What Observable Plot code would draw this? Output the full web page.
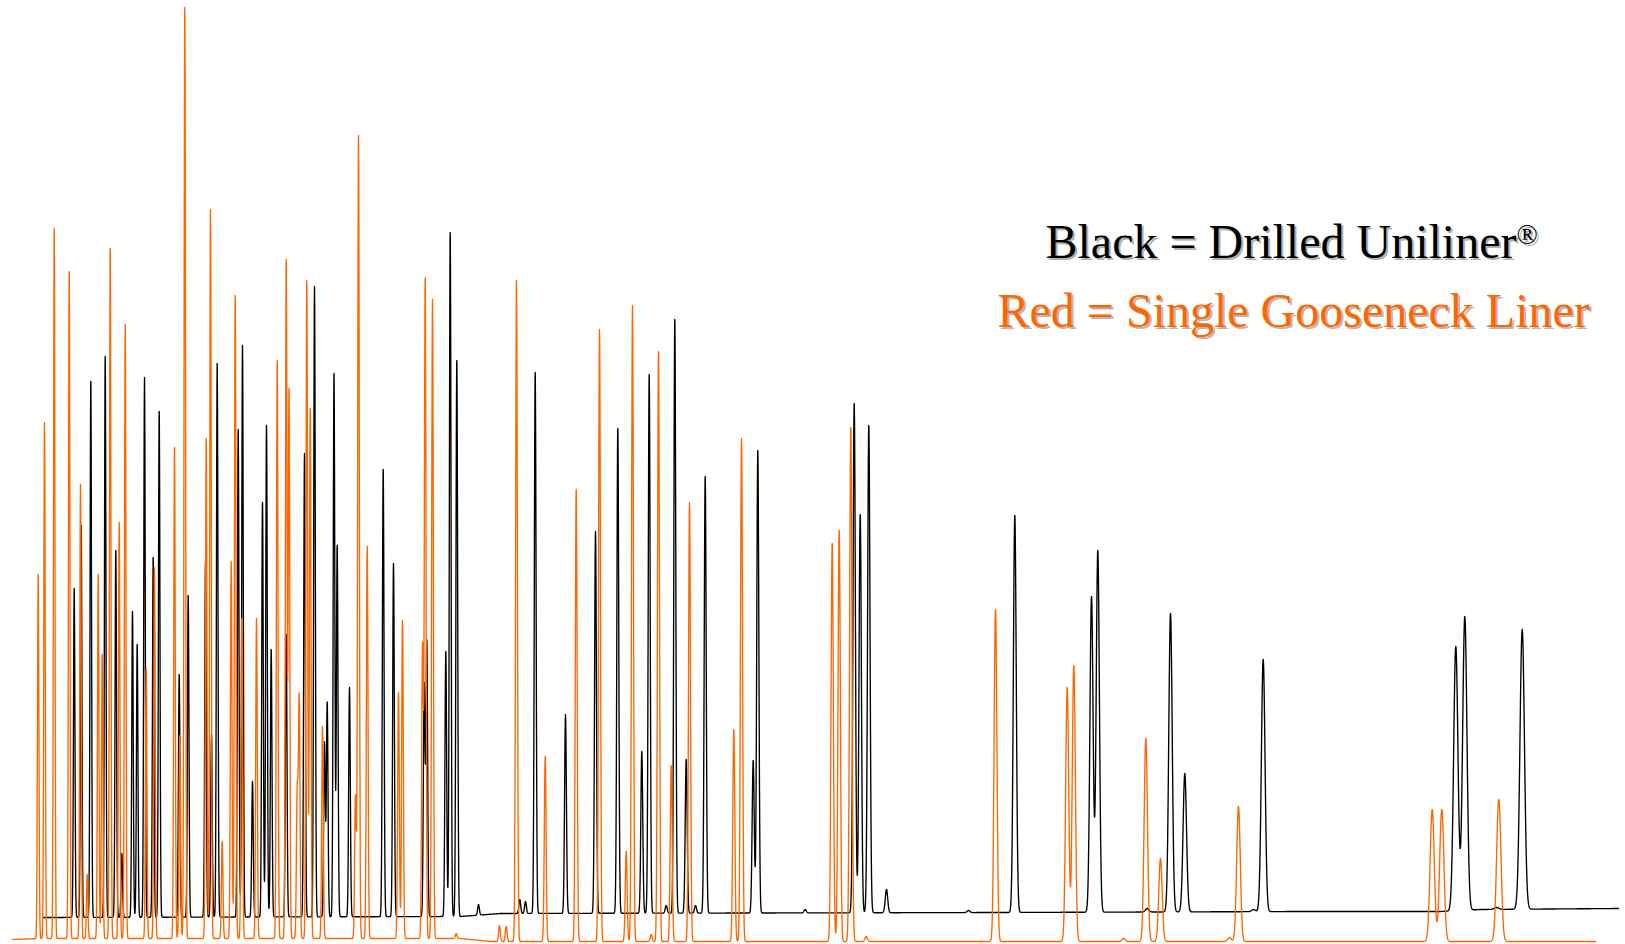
<!DOCTYPE html>
<html><head><meta charset="utf-8">
<script src="https://cdn.jsdelivr.net/npm/d3@7"></script>
<script src="https://cdn.jsdelivr.net/npm/@observablehq/plot@0.6"></script>
<style>html,body{margin:0;padding:0;background:#fff;overflow:hidden} #chart svg{display:block}</style>
</head><body><div id="chart"></div>
<script>
// Retention time (arbitrary units) and apex response of each peak
const blackTimes = [73.7,80.7,90.3,104.7,115.3,121.3,132,136.7,144,152.7,158.7,178.7,187.7,205,211,216.7,237.7,242,252,262,266,270.7,285.7,304,314,324,326.7,333.5,336.7,349,382.7,393,423.7,426.3,445.3,449.7,456.3,478,519.3,525,534.7,565,595,617.3,641.3,648.7,665.7,674.3,685.7,695,704.7,752.7,757.3,804.7,853.7,859.7,868.3,886,968,1014.3,1091,1097.3,1146.7,1170,1184.3,1253,1262.7,1455.3,1464.3,1496,1521.7];
const blackHeights = [356,419,563,588,394,91,333,300,567,387,533,270,349,383,210,581,515,599,163,442,519,295,310,491,658,202,242,571,399,257,475,381,260,303,293,712,584,40,45,43,572,230,413,516,193,570,39,625,185,39,468,184,494,35,541,430,519,55,34,429,348,394,36,331,171,35,285,298,328,37,315];
const orangeTimes = [37.7,44,53.7,68.7,80,86.7,97.7,101.7,109.7,118.7,124.7,145.7,154,174,179.3,184.3,205.7,210,221.7,230.7,234.7,241.3,256,276.7,285.7,288.5,296.7,298.7,306.3,309.7,322,355,358,366.7,398,402,422,424.7,432,455.7,499,505.7,516,544.7,575.7,599,625.7,632,650.7,658,670.7,689,733.3,741,831.7,838.7,850.3,865.7,995,1066.7,1073.3,1123,1145.3,1160,1229,1238,1431.7,1441.3,1498.3];
const orangeHeights = [370,522,716,673,460,70,370,290,696,422,620,275,377,497,209,937,506,735,103,383,649,326,326,584,684,555,150,245,664,536,218,149,809,398,252,324,299,665,645,11,19,18,664,188,455,615,93,639,10,593,179,442,215,506,401,414,517,8,335,257,279,6,206,86,7,138,135,135,145];

// Baseline drift of each trace
const blackBaseTimes = [43,460,500,1000,1300,1440,1480,1618];
const blackBaseValues = [27,28,31,32,33,33,35,36];
const orangeBaseTimes = [12,40,460,490,1595];
const orangeBaseValues = [5,6,6,3,3];

// Peak width (sigma) growing with retention time
const widthTimes = [0,460,720,900,1100,1300,1625];
const widthSigmas = [0.7,0.85,1.0,1.25,1.6,1.9,2.4];

const legendLines = ["Black = Drilled Uniliner", "Red = Single Gooseneck Liner"];
const legendMark = ["®"];

const sigmaAt = d3.scaleLinear().domain(widthTimes).range(widthSigmas).clamp(true);

function trace(times, heights, baseT, baseV) {
  const base = d3.scaleLinear().domain(baseT).range(baseV).clamp(true);
  const peaks = times.map((t, i) => ({t, a: heights[i] - base(t), s: sigmaAt(t)}));
  const t0 = baseT[0], t1 = baseT[baseT.length - 1];
  const n = Math.round((t1 - t0) / 0.2);
  const ts = d3.range(n + 1).map(i => t0 + i * 0.2).concat(times);
  ts.sort((a, b) => a - b);
  return ts.map(t => {
    let v = base(t);
    for (const p of peaks) {
      const d = t - p.t;
      if (Math.abs(d) < 8 * p.s) v += p.a * Math.exp(-d * d / (2 * p.s * p.s));
    }
    return {t, v};
  });
}

const blackTrace = trace(blackTimes, blackHeights, blackBaseTimes, blackBaseValues);
const orangeTrace = trace(orangeTimes, orangeHeights, orangeBaseTimes, orangeBaseValues);

const ORANGE = "#ff6600";
const font = "'Liberation Serif', 'Times New Roman', serif";
const txt = (data, x, y, fill, size) => Plot.text(data, {frameAnchor: "top-left", dx: x, dy: y, textAnchor: "start", fontSize: size, fontFamily: font, fill});

const chart = Plot.plot({
  width: 1625, height: 944, margin: 0,
  x: {domain: [0, 1625], axis: null},
  y: {domain: [0, 944], axis: null},
  marks: [
    Plot.line(blackTrace, {x: "t", y: "v", stroke: "#000", strokeWidth: 1.35}),
    Plot.line(orangeTrace, {x: "t", y: "v", stroke: ORANGE, strokeWidth: 1.35}),
    txt([legendLines[0]], 1047, 225.6, "#b0b0b0", 48),
    txt([legendLines[0]], 1045, 223.6, "#000", 48),
    txt(legendMark, 1518, 226, "#b0b0b0", 28),
    txt(legendMark, 1516, 224, "#000", 28),
    txt([legendLines[1]], 999, 294, "#b8b8b8", 48),
    txt([legendLines[1]], 997, 292, ORANGE, 48)
  ]
});
document.getElementById("chart").append(chart);
</script>
</body></html>
